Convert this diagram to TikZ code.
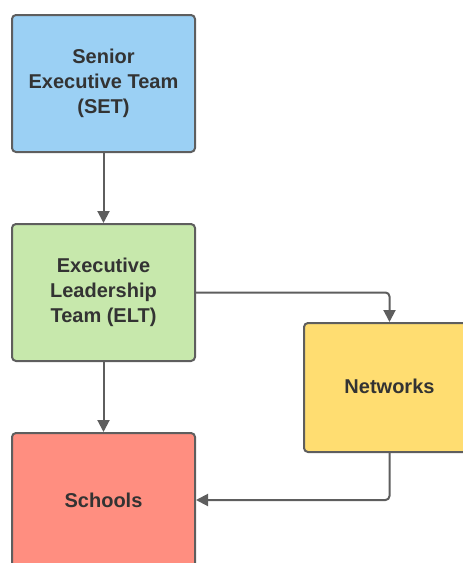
\documentclass[tikz,border=0pt]{standalone}
\usepackage{fontspec}
\setmainfont{Liberation Sans}
\usetikzlibrary{arrows.meta}
\definecolor{setblue}{HTML}{9BD0F4}
\definecolor{eltgreen}{HTML}{C7E8AC}
\definecolor{netyellow}{HTML}{FFDD71}
\definecolor{schred}{HTML}{FF8E80}
\definecolor{strokegray}{HTML}{5E5E5E}
\definecolor{txtgray}{HTML}{333333}
\tikzset{
  orgbox/.style={draw=strokegray, line width=2pt, rounded corners=4pt,
    minimum width=183pt, inner sep=0pt, align=center, text=txtgray,
    font=\fontsize{20}{25}\selectfont\bfseries},
  link/.style={draw=strokegray, line width=2pt, rounded corners=4pt,
    -{Triangle[length=12pt,width=12pt]}}
}
\begin{document}
\begin{tikzpicture}[x=1pt,y=-1pt]
\useasboundingbox (0,0) rectangle (463,563);
\clip (0,0) rectangle (463,563);
\node[orgbox, fill=setblue, minimum height=137pt] (set) at (103.5,83.5) {Senior\\Executive Team\\(SET)};
\node[orgbox, fill=eltgreen, minimum height=137pt] (elt) at (103.5,292.5) {Executive\\Leadership\\Team (ELT)};
\node[orgbox, fill=netyellow, minimum width=171pt, minimum height=129pt] (net) at (389.5,387.5) {\raisebox{3pt}{Networks}};
\node[orgbox, fill=schred, minimum height=134pt] (sch) at (103.5,500) {Schools};
\draw[link] (set) -- (elt);
\draw[link] (elt) -- (sch);
\draw[link] (elt.east) -| (net.north);
\draw[link] (net.south) |- (sch.east);
\end{tikzpicture}
\end{document}
